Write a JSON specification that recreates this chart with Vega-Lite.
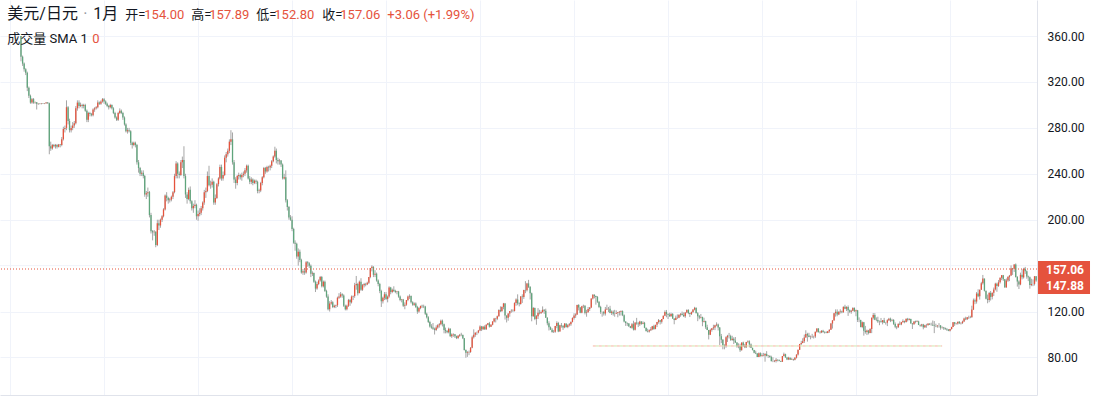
{
"$schema":"https://vega.github.io/schema/vega-lite/v6.json",
"width":1037,"height":395,"padding":{"left":0,"top":0,"right":68,"bottom":4},"autosize":{"type":"none"},
"background":"#ffffff",
"config":{"view":{"stroke":null},"font":"Roboto","scale":{"continuousPadding":0}},
"datasets":{"k":[
{"d":"1971-08","o":360,"h":360,"l":338,"c":342},{"d":"1971-09","o":342,"h":343,"l":334,"c":336},{"d":"1971-10","o":336,"h":337,"l":329,"c":331},{"d":"1971-11","o":331,"h":332,"l":326,"c":328},{"d":"1971-12","o":328,"h":329,"l":312,"c":315},
{"d":"1972-01","o":315,"h":316,"l":306,"c":308},{"d":"1972-02","o":308,"h":309,"l":301,"c":302},{"d":"1972-03","o":302,"h":306,"l":301,"c":305},{"d":"1972-04","o":305,"h":306,"l":301,"c":302},{"d":"1972-05","o":302,"h":303,"l":301,"c":302.4},{"d":"1972-06","o":302.4,"h":302.5,"l":296,"c":301},{"d":"1972-07","o":301,"h":301.5,"l":300,"c":301.2},{"d":"1972-08","o":301.2,"h":301.5,"l":300.5,"c":301},{"d":"1972-09","o":301,"h":301.5,"l":300.5,"c":301.3},{"d":"1972-10","o":301.3,"h":301.6,"l":300.8,"c":301.1},{"d":"1972-11","o":301.1,"h":301.5,"l":300.7,"c":301.4},{"d":"1972-12","o":301.4,"h":302.5,"l":301,"c":302},
{"d":"1973-01","o":302,"h":302.5,"l":301,"c":301.5},{"d":"1973-02","o":301.5,"h":302,"l":257,"c":264},{"d":"1973-03","o":264,"h":268,"l":260,"c":262},{"d":"1973-04","o":262,"h":266,"l":261,"c":265},{"d":"1973-05","o":265,"h":266,"l":263,"c":264},{"d":"1973-06","o":264,"h":266,"l":262,"c":265},{"d":"1973-07","o":265,"h":266,"l":262,"c":263.5},{"d":"1973-08","o":263.5,"h":266,"l":263,"c":265.5},{"d":"1973-09","o":265.5,"h":266,"l":263,"c":265},{"d":"1973-10","o":265,"h":272,"l":264,"c":270},{"d":"1973-11","o":270,"h":281,"l":269,"c":279},{"d":"1973-12","o":279,"h":282,"l":276,"c":280},
{"d":"1974-01","o":280,"h":304,"l":278,"c":298},{"d":"1974-02","o":298,"h":299,"l":283,"c":286},{"d":"1974-03","o":286,"h":288,"l":276,"c":278},{"d":"1974-04","o":278,"h":282,"l":276,"c":280},{"d":"1974-05","o":280,"h":285,"l":278,"c":282},{"d":"1974-06","o":282,"h":286,"l":280,"c":284},{"d":"1974-07","o":284,"h":299,"l":283,"c":297},{"d":"1974-08","o":297,"h":304,"l":295,"c":302},{"d":"1974-09","o":302,"h":304,"l":297,"c":299},{"d":"1974-10","o":299,"h":302,"l":298,"c":300},{"d":"1974-11","o":300,"h":301,"l":297,"c":299},{"d":"1974-12","o":299,"h":301,"l":297,"c":300},
{"d":"1975-01","o":300,"h":301,"l":294,"c":295},{"d":"1975-02","o":295,"h":296,"l":285,"c":287},{"d":"1975-03","o":287,"h":294,"l":285,"c":293},{"d":"1975-04","o":293,"h":294,"l":290,"c":292},{"d":"1975-05","o":292,"h":293,"l":290,"c":291},{"d":"1975-06","o":291,"h":297,"l":290,"c":296},{"d":"1975-07","o":296,"h":298,"l":294,"c":297},{"d":"1975-08","o":297,"h":299,"l":296,"c":298},{"d":"1975-09","o":298,"h":304,"l":297,"c":302},{"d":"1975-10","o":302,"h":303,"l":300,"c":301},{"d":"1975-11","o":301,"h":304,"l":300,"c":303},{"d":"1975-12","o":303,"h":306,"l":302,"c":305},
{"d":"1976-01","o":305,"h":306,"l":301,"c":303},{"d":"1976-02","o":303,"h":304,"l":300,"c":301},{"d":"1976-03","o":301,"h":302,"l":298,"c":299},{"d":"1976-04","o":299,"h":300,"l":296,"c":298},{"d":"1976-05","o":298,"h":301,"l":297,"c":300},{"d":"1976-06","o":300,"h":300.5,"l":296,"c":297},{"d":"1976-07","o":297,"h":298,"l":292,"c":293},{"d":"1976-08","o":293,"h":294,"l":288,"c":289},{"d":"1976-09","o":289,"h":290,"l":286,"c":287},{"d":"1976-10","o":287,"h":294,"l":286,"c":293},{"d":"1976-11","o":293,"h":297,"l":292,"c":295},{"d":"1976-12","o":295,"h":296,"l":292,"c":293},
{"d":"1977-01","o":293,"h":294,"l":287,"c":289},{"d":"1977-02","o":289,"h":290,"l":282,"c":283},{"d":"1977-03","o":283,"h":284,"l":276,"c":277},{"d":"1977-04","o":277,"h":280,"l":275,"c":278},{"d":"1977-05","o":278,"h":280,"l":276,"c":277},{"d":"1977-06","o":277,"h":278,"l":265,"c":267},{"d":"1977-07","o":267,"h":268,"l":262,"c":265},{"d":"1977-08","o":265,"h":268,"l":264,"c":267},{"d":"1977-09","o":267,"h":268,"l":263,"c":265},{"d":"1977-10","o":265,"h":266,"l":248,"c":250},{"d":"1977-11","o":250,"h":252,"l":241,"c":245},{"d":"1977-12","o":245,"h":246,"l":238,"c":240},
{"d":"1978-01","o":240,"h":243,"l":238,"c":241},{"d":"1978-02","o":241,"h":243,"l":236,"c":238},{"d":"1978-03","o":238,"h":239,"l":220,"c":222},{"d":"1978-04","o":222,"h":225,"l":218,"c":223},{"d":"1978-05","o":223,"h":228,"l":220,"c":224},{"d":"1978-06","o":224,"h":225,"l":202,"c":204},{"d":"1978-07","o":204,"h":206,"l":188,"c":190},{"d":"1978-08","o":190,"h":191,"l":182,"c":189},{"d":"1978-09","o":189,"h":191,"l":186,"c":189.5},{"d":"1978-10","o":189.5,"h":190,"l":176,"c":178},{"d":"1978-11","o":178,"h":200,"l":177,"c":197},{"d":"1978-12","o":197,"h":200,"l":191,"c":195},
{"d":"1979-01","o":195,"h":201,"l":193,"c":200},{"d":"1979-02","o":200,"h":204,"l":198,"c":203},{"d":"1979-03","o":203,"h":210,"l":202,"c":209},{"d":"1979-04","o":209,"h":222,"l":208,"c":221},{"d":"1979-05","o":221,"h":224,"l":216,"c":219},{"d":"1979-06","o":219,"h":220,"l":214,"c":217},{"d":"1979-07","o":217,"h":219,"l":215,"c":217.5},{"d":"1979-08","o":217.5,"h":221,"l":216,"c":220},{"d":"1979-09","o":220,"h":225,"l":218,"c":224},{"d":"1979-10","o":224,"h":240,"l":223,"c":238},{"d":"1979-11","o":238,"h":251,"l":236,"c":249},{"d":"1979-12","o":249,"h":250,"l":236,"c":240},
{"d":"1980-01","o":240,"h":242,"l":236,"c":239},{"d":"1980-02","o":239,"h":252,"l":238,"c":250},{"d":"1980-03","o":250,"h":255,"l":245,"c":252},{"d":"1980-04","o":252,"h":264,"l":236,"c":238},{"d":"1980-05","o":238,"h":240,"l":219,"c":222},{"d":"1980-06","o":222,"h":224,"l":214,"c":218},{"d":"1980-07","o":218,"h":228,"l":217,"c":226},{"d":"1980-08","o":226,"h":229,"l":214,"c":216},{"d":"1980-09","o":216,"h":217,"l":208,"c":210},{"d":"1980-10","o":210,"h":214,"l":206,"c":212},{"d":"1980-11","o":212,"h":217,"l":210,"c":213},{"d":"1980-12","o":213,"h":214,"l":200,"c":203},
{"d":"1981-01","o":203,"h":208,"l":199,"c":205},{"d":"1981-02","o":205,"h":210,"l":203,"c":206},{"d":"1981-03","o":206,"h":212,"l":204,"c":210},{"d":"1981-04","o":210,"h":216,"l":208,"c":215},{"d":"1981-05","o":215,"h":226,"l":213,"c":224},{"d":"1981-06","o":224,"h":228,"l":219,"c":225},{"d":"1981-07","o":225,"h":242,"l":224,"c":238},{"d":"1981-08","o":238,"h":247,"l":229,"c":230},{"d":"1981-09","o":230,"h":234,"l":227,"c":230.5},{"d":"1981-10","o":230.5,"h":236,"l":228,"c":233},{"d":"1981-11","o":233,"h":234,"l":213,"c":215},{"d":"1981-12","o":215,"h":222,"l":213,"c":219},
{"d":"1982-01","o":219,"h":232,"l":218,"c":231},{"d":"1982-02","o":231,"h":237,"l":229,"c":236},{"d":"1982-03","o":236,"h":248,"l":235,"c":246},{"d":"1982-04","o":246,"h":248,"l":234,"c":236},{"d":"1982-05","o":236,"h":242,"l":234,"c":239},{"d":"1982-06","o":239,"h":256,"l":238,"c":254},{"d":"1982-07","o":254,"h":259,"l":250,"c":257},{"d":"1982-08","o":257,"h":262,"l":255,"c":260},{"d":"1982-09","o":260,"h":270,"l":258,"c":268},{"d":"1982-10","o":268,"h":278,"l":265,"c":270},{"d":"1982-11","o":270,"h":276,"l":248,"c":250},{"d":"1982-12","o":250,"h":252,"l":232,"c":235},
{"d":"1983-01","o":235,"h":237,"l":227,"c":232},{"d":"1983-02","o":232,"h":239,"l":230,"c":238},{"d":"1983-03","o":238,"h":241,"l":235,"c":239},{"d":"1983-04","o":239,"h":240,"l":235,"c":237},{"d":"1983-05","o":237,"h":241,"l":234,"c":239},{"d":"1983-06","o":239,"h":242,"l":237,"c":240},{"d":"1983-07","o":240,"h":245,"l":238,"c":243},{"d":"1983-08","o":243,"h":248,"l":241,"c":247},{"d":"1983-09","o":247,"h":248,"l":235,"c":236},{"d":"1983-10","o":236,"h":238,"l":231,"c":233},{"d":"1983-11","o":233,"h":237,"l":231,"c":235},{"d":"1983-12","o":235,"h":236,"l":230,"c":232},
{"d":"1984-01","o":232,"h":235,"l":231,"c":234},{"d":"1984-02","o":234,"h":235,"l":231,"c":233},{"d":"1984-03","o":233,"h":234,"l":223,"c":225},{"d":"1984-04","o":225,"h":227,"l":223,"c":225.5},{"d":"1984-05","o":225.5,"h":233,"l":224,"c":232},{"d":"1984-06","o":232,"h":238,"l":230,"c":237},{"d":"1984-07","o":237,"h":246,"l":236,"c":245},{"d":"1984-08","o":245,"h":246,"l":240,"c":242},{"d":"1984-09","o":242,"h":247,"l":241,"c":246},{"d":"1984-10","o":246,"h":247,"l":242,"c":245.5},{"d":"1984-11","o":245.5,"h":248,"l":243,"c":247},{"d":"1984-12","o":247,"h":252,"l":245,"c":251},
{"d":"1985-01","o":251,"h":256,"l":250,"c":255},{"d":"1985-02","o":255,"h":263.6,"l":254,"c":260},{"d":"1985-03","o":260,"h":262,"l":249,"c":252},{"d":"1985-04","o":252,"h":254,"l":248,"c":251},{"d":"1985-05","o":251,"h":253,"l":248,"c":251.5},{"d":"1985-06","o":251.5,"h":252,"l":246,"c":248},{"d":"1985-07","o":248,"h":249,"l":235,"c":236},{"d":"1985-08","o":236,"h":240,"l":235,"c":237},{"d":"1985-09","o":237,"h":243,"l":215,"c":217},{"d":"1985-10","o":217,"h":218,"l":208,"c":211},{"d":"1985-11","o":211,"h":212,"l":200,"c":202},{"d":"1985-12","o":202,"h":204,"l":199,"c":200},
{"d":"1986-01","o":200,"h":203,"l":190,"c":192},{"d":"1986-02","o":192,"h":193,"l":179,"c":180},{"d":"1986-03","o":180,"h":182,"l":173,"c":179},{"d":"1986-04","o":179,"h":180,"l":166,"c":168},{"d":"1986-05","o":168,"h":175,"l":160,"c":172},{"d":"1986-06","o":172,"h":174,"l":163,"c":165},{"d":"1986-07","o":165,"h":166,"l":153,"c":154},{"d":"1986-08","o":154,"h":157,"l":152,"c":155},{"d":"1986-09","o":155,"h":158,"l":152,"c":154},{"d":"1986-10","o":154,"h":164,"l":153,"c":163},{"d":"1986-11","o":163,"h":164,"l":159,"c":162},{"d":"1986-12","o":162,"h":163,"l":158,"c":160},
{"d":"1987-01","o":160,"h":161,"l":150,"c":153},{"d":"1987-02","o":153,"h":155,"l":151,"c":153.5},{"d":"1987-03","o":153.5,"h":154,"l":145,"c":146},{"d":"1987-04","o":146,"h":147,"l":137,"c":140},{"d":"1987-05","o":140,"h":146,"l":139,"c":144},{"d":"1987-06","o":144,"h":148,"l":143,"c":147},{"d":"1987-07","o":147,"h":151,"l":146,"c":150},{"d":"1987-08","o":150,"h":151,"l":141,"c":142},{"d":"1987-09","o":142,"h":147,"l":141,"c":146},{"d":"1987-10","o":146,"h":147,"l":137,"c":138},{"d":"1987-11","o":138,"h":139,"l":132,"c":133},{"d":"1987-12","o":133,"h":135,"l":121,"c":122},
{"d":"1988-01","o":122,"h":129,"l":120,"c":127},{"d":"1988-02","o":127,"h":130,"l":126,"c":128},{"d":"1988-03","o":128,"h":129,"l":123,"c":124},{"d":"1988-04","o":124,"h":126,"l":123,"c":125},{"d":"1988-05","o":125,"h":126,"l":123,"c":125.5},{"d":"1988-06","o":125.5,"h":133,"l":124,"c":132},{"d":"1988-07","o":132,"h":136,"l":131,"c":133},{"d":"1988-08","o":133,"h":137,"l":132,"c":135},{"d":"1988-09","o":135,"h":136,"l":132,"c":134},{"d":"1988-10","o":134,"h":135,"l":124,"c":125},{"d":"1988-11","o":125,"h":126,"l":121,"c":122},{"d":"1988-12","o":122,"h":126,"l":121,"c":125},
{"d":"1989-01","o":125,"h":131,"l":124,"c":130},{"d":"1989-02","o":130,"h":131,"l":125,"c":128},{"d":"1989-03","o":128,"h":134,"l":127,"c":133},{"d":"1989-04","o":133,"h":134,"l":130,"c":133.5},{"d":"1989-05","o":133.5,"h":145,"l":132,"c":143},{"d":"1989-06","o":143,"h":151,"l":139,"c":144},{"d":"1989-07","o":144,"h":145,"l":134,"c":136},{"d":"1989-08","o":136,"h":147,"l":136,"c":146},{"d":"1989-09","o":146,"h":149,"l":138,"c":139},{"d":"1989-10","o":139,"h":144,"l":138,"c":143},{"d":"1989-11","o":143,"h":145,"l":141,"c":144},{"d":"1989-12","o":144,"h":145,"l":142,"c":143.5},
{"d":"1990-01","o":143.5,"h":146,"l":143,"c":145},{"d":"1990-02","o":145,"h":150,"l":144,"c":150},{"d":"1990-03","o":150,"h":158,"l":149,"c":158},{"d":"1990-04","o":158,"h":160.3,"l":155,"c":159},{"d":"1990-05","o":159,"h":159.5,"l":150,"c":152},{"d":"1990-06","o":152,"h":156,"l":150,"c":153},{"d":"1990-07","o":153,"h":154,"l":146,"c":147},{"d":"1990-08","o":147,"h":148,"l":142,"c":144},{"d":"1990-09","o":144,"h":145,"l":136,"c":138},{"d":"1990-10","o":138,"h":139,"l":124,"c":129},{"d":"1990-11","o":129,"h":133,"l":127,"c":132},{"d":"1990-12","o":132,"h":137,"l":130,"c":135},
{"d":"1991-01","o":135,"h":137,"l":130,"c":131},{"d":"1991-02","o":131,"h":134,"l":128,"c":133},{"d":"1991-03","o":133,"h":142,"l":132,"c":141},{"d":"1991-04","o":141,"h":141.5,"l":135,"c":137},{"d":"1991-05","o":137,"h":140,"l":136,"c":139},{"d":"1991-06","o":139,"h":142,"l":137,"c":138},{"d":"1991-07","o":138,"h":139,"l":136,"c":137},{"d":"1991-08","o":137,"h":138,"l":135,"c":137.5},{"d":"1991-09","o":137.5,"h":138,"l":132,"c":133},{"d":"1991-10","o":133,"h":134,"l":129,"c":130},{"d":"1991-11","o":130,"h":131,"l":128,"c":130.5},{"d":"1991-12","o":130.5,"h":131,"l":124,"c":125},
{"d":"1992-01","o":125,"h":128,"l":122,"c":126},{"d":"1992-02","o":126,"h":130,"l":125,"c":130},{"d":"1992-03","o":130,"h":134,"l":129,"c":133},{"d":"1992-04","o":133,"h":135,"l":131,"c":133.5},{"d":"1992-05","o":133.5,"h":134,"l":127,"c":128},{"d":"1992-06","o":128,"h":129,"l":125,"c":126},{"d":"1992-07","o":126,"h":128,"l":125,"c":127},{"d":"1992-08","o":127,"h":128,"l":123,"c":124},{"d":"1992-09","o":124,"h":125,"l":118,"c":120},{"d":"1992-10","o":120,"h":124,"l":119,"c":123},{"d":"1992-11","o":123,"h":125,"l":122,"c":125},{"d":"1992-12","o":125,"h":126,"l":123,"c":124.6},
{"d":"1993-01","o":124.6,"h":126,"l":123,"c":124.5},{"d":"1993-02","o":124.5,"h":125,"l":117,"c":118},{"d":"1993-03","o":118,"h":119,"l":114,"c":115},{"d":"1993-04","o":115,"h":116,"l":110,"c":111},{"d":"1993-05","o":111,"h":112,"l":106,"c":107},{"d":"1993-06","o":107,"h":109,"l":105,"c":106},{"d":"1993-07","o":106,"h":110,"l":104,"c":105},{"d":"1993-08","o":105,"h":106,"l":100,"c":104},{"d":"1993-09","o":104,"h":108,"l":103,"c":106},{"d":"1993-10","o":106,"h":109,"l":105,"c":108},{"d":"1993-11","o":108,"h":110,"l":106,"c":109},{"d":"1993-12","o":109,"h":113,"l":108,"c":112},
{"d":"1994-01","o":112,"h":113,"l":107,"c":109},{"d":"1994-02","o":109,"h":109.5,"l":101,"c":104},{"d":"1994-03","o":104,"h":106,"l":101,"c":103},{"d":"1994-04","o":103,"h":104,"l":101,"c":102},{"d":"1994-05","o":102,"h":106,"l":101,"c":105},{"d":"1994-06","o":105,"h":105.5,"l":98,"c":98.5},{"d":"1994-07","o":98.5,"h":101,"l":97,"c":100},{"d":"1994-08","o":100,"h":101,"l":98,"c":100.3},{"d":"1994-09","o":100.3,"h":100.5,"l":97,"c":98.5},{"d":"1994-10","o":98.5,"h":99,"l":96,"c":97},{"d":"1994-11","o":97,"h":99.5,"l":96,"c":98.9},{"d":"1994-12","o":98.9,"h":100.5,"l":98,"c":99.7},
{"d":"1995-01","o":99.7,"h":101.5,"l":98.5,"c":99.5},{"d":"1995-02","o":99.5,"h":100,"l":96,"c":96.7},{"d":"1995-03","o":96.7,"h":97,"l":86,"c":86.5},{"d":"1995-04","o":86.5,"h":87,"l":79.75,"c":84},{"d":"1995-05","o":84,"h":85.5,"l":80.5,"c":84.5},{"d":"1995-06","o":84.5,"h":86,"l":82,"c":84.7},{"d":"1995-07","o":84.7,"h":89,"l":84,"c":88.5},{"d":"1995-08","o":88.5,"h":99,"l":88,"c":97.5},{"d":"1995-09","o":97.5,"h":104.5,"l":96.5,"c":99.8},{"d":"1995-10","o":99.8,"h":101.5,"l":98,"c":101.8},{"d":"1995-11","o":101.8,"h":102.5,"l":99.5,"c":101.7},{"d":"1995-12","o":101.7,"h":104,"l":101,"c":103.5},
{"d":"1996-01","o":103.5,"h":108,"l":103,"c":107},{"d":"1996-02","o":107,"h":107.5,"l":103,"c":104.5},{"d":"1996-03","o":104.5,"h":107.5,"l":104,"c":106.7},{"d":"1996-04","o":106.7,"h":108,"l":104,"c":104.5},{"d":"1996-05","o":104.5,"h":109,"l":104,"c":108.5},{"d":"1996-06","o":108.5,"h":110,"l":108,"c":109.7},{"d":"1996-07","o":109.7,"h":111,"l":106,"c":106.8},{"d":"1996-08","o":106.8,"h":109,"l":106.5,"c":108.5},{"d":"1996-09","o":108.5,"h":111.5,"l":108,"c":111.4},{"d":"1996-10","o":111.4,"h":114.5,"l":110.5,"c":114},{"d":"1996-11","o":114,"h":114.5,"l":110.5,"c":113.8},{"d":"1996-12","o":113.8,"h":116.5,"l":112.5,"c":115.8},
{"d":"1997-01","o":115.8,"h":122,"l":115.5,"c":121.3},{"d":"1997-02","o":121.3,"h":124.5,"l":119.5,"c":120.3},{"d":"1997-03","o":120.3,"h":124.5,"l":120,"c":124},{"d":"1997-04","o":124,"h":127.5,"l":122,"c":127},{"d":"1997-05","o":127,"h":127.5,"l":113,"c":116.5},{"d":"1997-06","o":116.5,"h":116.8,"l":110.5,"c":114.5},{"d":"1997-07","o":114.5,"h":118.5,"l":112,"c":118.3},{"d":"1997-08","o":118.3,"h":120.5,"l":115.5,"c":120.4},{"d":"1997-09","o":120.4,"h":122,"l":119,"c":120.7},{"d":"1997-10","o":120.7,"h":122,"l":119.5,"c":120.5},{"d":"1997-11","o":120.5,"h":128,"l":120,"c":127.5},{"d":"1997-12","o":127.5,"h":131.5,"l":125,"c":130.5},
{"d":"1998-01","o":130.5,"h":135,"l":125.5,"c":127},{"d":"1998-02","o":127,"h":128,"l":124.5,"c":126.5},{"d":"1998-03","o":126.5,"h":133.5,"l":126,"c":133},{"d":"1998-04","o":133,"h":135,"l":127.5,"c":132.7},{"d":"1998-05","o":132.7,"h":139,"l":131,"c":138.8},{"d":"1998-06","o":138.8,"h":146.5,"l":136,"c":138.5},{"d":"1998-07","o":138.5,"h":145,"l":137.5,"c":144.5},{"d":"1998-08","o":144.5,"h":147.6,"l":140.5,"c":141.5},{"d":"1998-09","o":141.5,"h":142,"l":130.5,"c":136},{"d":"1998-10","o":136,"h":136.5,"l":111.5,"c":116},{"d":"1998-11","o":116,"h":124,"l":115.5,"c":123},{"d":"1998-12","o":123,"h":123.5,"l":112.5,"c":113.6},
{"d":"1999-01","o":113.6,"h":117,"l":108.5,"c":116},{"d":"1999-02","o":116,"h":123,"l":113.5,"c":119},{"d":"1999-03","o":119,"h":121.5,"l":117.5,"c":118.5},{"d":"1999-04","o":118.5,"h":121,"l":118,"c":119.5},{"d":"1999-05","o":119.5,"h":124.5,"l":119,"c":121.5},{"d":"1999-06","o":121.5,"h":122,"l":118,"c":120.8},{"d":"1999-07","o":120.8,"h":122.5,"l":114.5,"c":114.6},{"d":"1999-08","o":114.6,"h":115,"l":108,"c":109.8},{"d":"1999-09","o":109.8,"h":111.5,"l":103.5,"c":106.3},{"d":"1999-10","o":106.3,"h":107,"l":104,"c":104.2},{"d":"1999-11","o":104.2,"h":105.5,"l":101.5,"c":102.2},{"d":"1999-12","o":102.2,"h":104,"l":101.3,"c":102.4},
{"d":"2000-01","o":102.4,"h":107.5,"l":101.5,"c":107.3},{"d":"2000-02","o":107.3,"h":111.5,"l":105.5,"c":110},{"d":"2000-03","o":110,"h":111,"l":102,"c":102.7},{"d":"2000-04","o":102.7,"h":108.5,"l":102.5,"c":108.1},{"d":"2000-05","o":108.1,"h":110,"l":106,"c":107.6},{"d":"2000-06","o":107.6,"h":108,"l":104,"c":106.2},{"d":"2000-07","o":106.2,"h":110,"l":105.5,"c":109.5},{"d":"2000-08","o":109.5,"h":109.6,"l":106,"c":106.6},{"d":"2000-09","o":106.6,"h":109,"l":105.5,"c":108},{"d":"2000-10","o":108,"h":110,"l":107,"c":109},{"d":"2000-11","o":109,"h":111.5,"l":107.5,"c":111},{"d":"2000-12","o":111,"h":115,"l":110.5,"c":114.4},
{"d":"2001-01","o":114.4,"h":118.5,"l":113,"c":116.5},{"d":"2001-02","o":116.5,"h":118.5,"l":114.5,"c":117.5},{"d":"2001-03","o":117.5,"h":126,"l":117,"c":125.8},{"d":"2001-04","o":125.8,"h":126.5,"l":121,"c":123.6},{"d":"2001-05","o":123.6,"h":124,"l":118.5,"c":119},{"d":"2001-06","o":119,"h":125,"l":118.5,"c":124.7},{"d":"2001-07","o":124.7,"h":126,"l":123,"c":125},{"d":"2001-08","o":125,"h":125.5,"l":117.5,"c":118.8},{"d":"2001-09","o":118.8,"h":121.5,"l":115.5,"c":119.3},{"d":"2001-10","o":119.3,"h":124,"l":119,"c":122.3},{"d":"2001-11","o":122.3,"h":124,"l":120.5,"c":123.5},{"d":"2001-12","o":123.5,"h":131.5,"l":123,"c":131.3},
{"d":"2002-01","o":131.3,"h":135.2,"l":130.5,"c":134.6},{"d":"2002-02","o":134.6,"h":135,"l":131.5,"c":133.5},{"d":"2002-03","o":133.5,"h":133.8,"l":126,"c":132.7},{"d":"2002-04","o":132.7,"h":133.5,"l":127.5,"c":128.5},{"d":"2002-05","o":128.5,"h":129,"l":123,"c":124},{"d":"2002-06","o":124,"h":125,"l":118,"c":119.5},{"d":"2002-07","o":119.5,"h":120,"l":115.5,"c":119.7},{"d":"2002-08","o":119.7,"h":120.5,"l":116.5,"c":118.4},{"d":"2002-09","o":118.4,"h":124,"l":116.5,"c":121.8},{"d":"2002-10","o":121.8,"h":126,"l":121.5,"c":122.5},{"d":"2002-11","o":122.5,"h":124,"l":119.5,"c":122.4},{"d":"2002-12","o":122.4,"h":125,"l":118.5,"c":118.8},
{"d":"2003-01","o":118.8,"h":121,"l":117,"c":119.9},{"d":"2003-02","o":119.9,"h":121,"l":116.5,"c":118},{"d":"2003-03","o":118,"h":121.5,"l":115.5,"c":118.1},{"d":"2003-04","o":118.1,"h":121,"l":118,"c":118.8},{"d":"2003-05","o":118.8,"h":119.5,"l":115,"c":119.3},{"d":"2003-06","o":119.3,"h":120.5,"l":116.5,"c":119.8},{"d":"2003-07","o":119.8,"h":121,"l":116.5,"c":120.5},{"d":"2003-08","o":120.5,"h":121,"l":116,"c":116.8},{"d":"2003-09","o":116.8,"h":117.5,"l":110.5,"c":111.4},{"d":"2003-10","o":111.4,"h":111.5,"l":107.5,"c":110},{"d":"2003-11","o":110,"h":110.5,"l":107.5,"c":109.6},{"d":"2003-12","o":109.6,"h":110,"l":106.5,"c":107.2},
{"d":"2004-01","o":107.2,"h":107.5,"l":105.5,"c":105.8},{"d":"2004-02","o":105.8,"h":110,"l":105,"c":109},{"d":"2004-03","o":109,"h":112,"l":103.5,"c":104.2},{"d":"2004-04","o":104.2,"h":110.5,"l":103.5,"c":110.4},{"d":"2004-05","o":110.4,"h":114.5,"l":108.5,"c":109.6},{"d":"2004-06","o":109.6,"h":111,"l":106.5,"c":108.9},{"d":"2004-07","o":108.9,"h":112,"l":107.5,"c":111.4},{"d":"2004-08","o":111.4,"h":111.5,"l":108.5,"c":109.3},{"d":"2004-09","o":109.3,"h":111.5,"l":109,"c":110.2},{"d":"2004-10","o":110.2,"h":111,"l":105.5,"c":105.9},{"d":"2004-11","o":105.9,"h":106,"l":102.5,"c":103.1},{"d":"2004-12","o":103.1,"h":105,"l":101.8,"c":102.6},
{"d":"2005-01","o":102.6,"h":104.5,"l":101.7,"c":103.6},{"d":"2005-02","o":103.6,"h":106.5,"l":103,"c":104.5},{"d":"2005-03","o":104.5,"h":107.5,"l":103.8,"c":107.2},{"d":"2005-04","o":107.2,"h":108.5,"l":104,"c":104.9},{"d":"2005-05","o":104.9,"h":108.5,"l":104.5,"c":108.4},{"d":"2005-06","o":108.4,"h":111,"l":106.5,"c":110.9},{"d":"2005-07","o":110.9,"h":113.5,"l":109.5,"c":112.4},{"d":"2005-08","o":112.4,"h":112.5,"l":108.7,"c":111.1},{"d":"2005-09","o":111.1,"h":113.5,"l":109.5,"c":113.4},{"d":"2005-10","o":113.4,"h":116.5,"l":113.3,"c":116.4},{"d":"2005-11","o":116.4,"h":121,"l":116,"c":119.7},{"d":"2005-12","o":119.7,"h":121.4,"l":115,"c":117.9},
{"d":"2006-01","o":117.9,"h":118.5,"l":113.5,"c":117.2},{"d":"2006-02","o":117.2,"h":119,"l":115.5,"c":115.8},{"d":"2006-03","o":115.8,"h":119,"l":115.5,"c":117.8},{"d":"2006-04","o":117.8,"h":118.7,"l":113.5,"c":113.9},{"d":"2006-05","o":113.9,"h":114,"l":108.9,"c":112.6},{"d":"2006-06","o":112.6,"h":116.5,"l":112.5,"c":114.5},{"d":"2006-07","o":114.5,"h":117.5,"l":113.5,"c":114.7},{"d":"2006-08","o":114.7,"h":117.5,"l":114.2,"c":117.3},{"d":"2006-09","o":117.3,"h":118.5,"l":115.5,"c":118.1},{"d":"2006-10","o":118.1,"h":120,"l":116.5,"c":116.9},{"d":"2006-11","o":116.9,"h":119.3,"l":115.2,"c":115.8},{"d":"2006-12","o":115.8,"h":119.5,"l":114.5,"c":119.1},
{"d":"2007-01","o":119.1,"h":122,"l":118.5,"c":121.4},{"d":"2007-02","o":121.4,"h":122,"l":117.7,"c":118.7},{"d":"2007-03","o":118.7,"h":119,"l":115.2,"c":117.8},{"d":"2007-04","o":117.8,"h":120,"l":117,"c":119.5},{"d":"2007-05","o":119.5,"h":122,"l":118.7,"c":121.7},{"d":"2007-06","o":121.7,"h":124.1,"l":121,"c":123.2},{"d":"2007-07","o":123.2,"h":123.5,"l":118.5,"c":118.6},{"d":"2007-08","o":118.6,"h":119.5,"l":111.6,"c":115.8},{"d":"2007-09","o":115.8,"h":117,"l":113.3,"c":114.9},{"d":"2007-10","o":114.9,"h":117.9,"l":114,"c":115.3},{"d":"2007-11","o":115.3,"h":115.5,"l":107.2,"c":111.2},{"d":"2007-12","o":111.2,"h":114.6,"l":110.5,"c":111.7},
{"d":"2008-01","o":111.7,"h":112,"l":104.9,"c":106.4},{"d":"2008-02","o":106.4,"h":108.5,"l":103.8,"c":103.9},{"d":"2008-03","o":103.9,"h":104,"l":95.7,"c":99.7},{"d":"2008-04","o":99.7,"h":105,"l":99.5,"c":104},{"d":"2008-05","o":104,"h":105.5,"l":102.5,"c":105.5},{"d":"2008-06","o":105.5,"h":108.5,"l":104,"c":106.2},{"d":"2008-07","o":106.2,"h":108.5,"l":103.8,"c":108},{"d":"2008-08","o":108,"h":110.6,"l":107.2,"c":108.7},{"d":"2008-09","o":108.7,"h":109.5,"l":103.5,"c":106},{"d":"2008-10","o":106,"h":106.5,"l":90.9,"c":98.4},{"d":"2008-11","o":98.4,"h":100.5,"l":92.5,"c":95.5},{"d":"2008-12","o":95.5,"h":96,"l":87.1,"c":90.6},
{"d":"2009-01","o":90.6,"h":91.5,"l":87.1,"c":89.9},{"d":"2009-02","o":89.9,"h":98.5,"l":88.5,"c":97.6},{"d":"2009-03","o":97.6,"h":99.7,"l":93.5,"c":98.9},{"d":"2009-04","o":98.9,"h":101.4,"l":96.5,"c":98.6},{"d":"2009-05","o":98.6,"h":99.8,"l":94.5,"c":95.3},{"d":"2009-06","o":95.3,"h":98.9,"l":94.5,"c":96.4},{"d":"2009-07","o":96.4,"h":97.6,"l":91.7,"c":94.7},{"d":"2009-08","o":94.7,"h":97.8,"l":92.6,"c":93},{"d":"2009-09","o":93,"h":93.3,"l":88.5,"c":89.8},{"d":"2009-10","o":89.8,"h":92.3,"l":88,"c":90},{"d":"2009-11","o":90,"h":92,"l":84.8,"c":86.3},{"d":"2009-12","o":86.3,"h":93.1,"l":86,"c":93},
{"d":"2010-01","o":93,"h":93.8,"l":89.2,"c":90.3},{"d":"2010-02","o":90.3,"h":91.8,"l":88.1,"c":88.9},{"d":"2010-03","o":88.9,"h":93.6,"l":88.2,"c":93.4},{"d":"2010-04","o":93.4,"h":94.9,"l":92.5,"c":94},{"d":"2010-05","o":94,"h":94.9,"l":88.8,"c":91.3},{"d":"2010-06","o":91.3,"h":92.2,"l":88.2,"c":88.4},{"d":"2010-07","o":88.4,"h":88.5,"l":86.2,"c":86.4},{"d":"2010-08","o":86.4,"h":86.6,"l":83.6,"c":84.2},{"d":"2010-09","o":84.2,"h":85.9,"l":82.9,"c":83.5},{"d":"2010-10","o":83.5,"h":83.8,"l":80.3,"c":80.4},{"d":"2010-11","o":80.4,"h":84.4,"l":80.3,"c":83.7},{"d":"2010-12","o":83.7,"h":84.5,"l":80.8,"c":81.1},
{"d":"2011-01","o":81.1,"h":83.7,"l":81,"c":82},{"d":"2011-02","o":82,"h":84,"l":81,"c":81.8},{"d":"2011-03","o":81.8,"h":83.8,"l":76.3,"c":83.1},{"d":"2011-04","o":83.1,"h":85.5,"l":81,"c":81.2},{"d":"2011-05","o":81.2,"h":82.2,"l":79.6,"c":81.5},{"d":"2011-06","o":81.5,"h":81.7,"l":79.7,"c":80.5},{"d":"2011-07","o":80.5,"h":81.5,"l":76.7,"c":76.8},{"d":"2011-08","o":76.8,"h":80.2,"l":75.9,"c":76.6},{"d":"2011-09","o":76.6,"h":77.8,"l":75.9,"c":77},{"d":"2011-10","o":77,"h":79.5,"l":75.6,"c":78.1},{"d":"2011-11","o":78.1,"h":78.3,"l":76.6,"c":77.6},{"d":"2011-12","o":77.6,"h":78.3,"l":76.6,"c":76.9},
{"d":"2012-01","o":76.9,"h":77.2,"l":76.1,"c":76.3},{"d":"2012-02","o":76.3,"h":81.3,"l":76.1,"c":81.2},{"d":"2012-03","o":81.2,"h":84.2,"l":80.8,"c":82.8},{"d":"2012-04","o":82.8,"h":83.3,"l":79.8,"c":80},{"d":"2012-05","o":80,"h":80.5,"l":77.7,"c":78.3},{"d":"2012-06","o":78.3,"h":80.6,"l":77.7,"c":79.8},{"d":"2012-07","o":79.8,"h":80,"l":77.9,"c":78.1},{"d":"2012-08","o":78.1,"h":79.7,"l":77.9,"c":78.4},{"d":"2012-09","o":78.4,"h":78.9,"l":77.1,"c":77.9},{"d":"2012-10","o":77.9,"h":80.4,"l":77.5,"c":79.8},{"d":"2012-11","o":79.8,"h":82.8,"l":79.1,"c":82.5},{"d":"2012-12","o":82.5,"h":86.8,"l":81.7,"c":86.7},
{"d":"2013-01","o":86.7,"h":91.8,"l":86.5,"c":91.7},{"d":"2013-02","o":91.7,"h":94.5,"l":90.8,"c":92.5},{"d":"2013-03","o":92.5,"h":96.7,"l":92.4,"c":94.2},{"d":"2013-04","o":94.2,"h":99.9,"l":92.6,"c":97.4},{"d":"2013-05","o":97.4,"h":103.7,"l":97.2,"c":100.5},{"d":"2013-06","o":100.5,"h":101.5,"l":93.8,"c":99.1},{"d":"2013-07","o":99.1,"h":101.5,"l":97.6,"c":97.9},{"d":"2013-08","o":97.9,"h":99.1,"l":95.8,"c":98.1},{"d":"2013-09","o":98.1,"h":100.6,"l":96.9,"c":98.2},{"d":"2013-10","o":98.2,"h":99,"l":96.5,"c":98.3},{"d":"2013-11","o":98.3,"h":102.5,"l":96.9,"c":102.4},{"d":"2013-12","o":102.4,"h":105.4,"l":101.6,"c":105.3},
{"d":"2014-01","o":105.3,"h":105.4,"l":101.8,"c":102},{"d":"2014-02","o":102,"h":103,"l":100.8,"c":101.8},{"d":"2014-03","o":101.8,"h":103.8,"l":101.2,"c":103.2},{"d":"2014-04","o":103.2,"h":104.1,"l":101.4,"c":102.2},{"d":"2014-05","o":102.2,"h":102.8,"l":100.8,"c":101.8},{"d":"2014-06","o":101.8,"h":102.8,"l":101.1,"c":101.3},{"d":"2014-07","o":101.3,"h":103.1,"l":101.1,"c":102.8},{"d":"2014-08","o":102.8,"h":104.5,"l":101.5,"c":104.1},{"d":"2014-09","o":104.1,"h":110.1,"l":104,"c":109.6},{"d":"2014-10","o":109.6,"h":112.5,"l":105.2,"c":112.3},{"d":"2014-11","o":112.3,"h":118.9,"l":112.2,"c":118.6},{"d":"2014-12","o":118.6,"h":121.9,"l":115.6,"c":119.8},
{"d":"2015-01","o":119.8,"h":121.9,"l":115.9,"c":117.5},{"d":"2015-02","o":117.5,"h":120.5,"l":116.9,"c":119.6},{"d":"2015-03","o":119.6,"h":122,"l":118.3,"c":120.1},{"d":"2015-04","o":120.1,"h":120.8,"l":118.5,"c":119.4},{"d":"2015-05","o":119.4,"h":124.5,"l":118.9,"c":124.1},{"d":"2015-06","o":124.1,"h":125.9,"l":122,"c":122.5},{"d":"2015-07","o":122.5,"h":124.6,"l":120.4,"c":123.9},{"d":"2015-08","o":123.9,"h":125.3,"l":116.2,"c":121.2},{"d":"2015-09","o":121.2,"h":121.8,"l":118.6,"c":119.9},{"d":"2015-10","o":119.9,"h":121.5,"l":118.1,"c":120.6},{"d":"2015-11","o":120.6,"h":123.8,"l":120.3,"c":123.1},{"d":"2015-12","o":123.1,"h":123.7,"l":119.7,"c":120.2},
{"d":"2016-01","o":120.2,"h":121.7,"l":115.9,"c":121.1},{"d":"2016-02","o":121.1,"h":121.4,"l":110.9,"c":112.7},{"d":"2016-03","o":112.7,"h":114.9,"l":110.7,"c":112.6},{"d":"2016-04","o":112.6,"h":112.9,"l":106.2,"c":106.5},{"d":"2016-05","o":106.5,"h":111.4,"l":105.5,"c":110.7},{"d":"2016-06","o":110.7,"h":111,"l":99,"c":103.2},{"d":"2016-07","o":103.2,"h":107.5,"l":100.7,"c":102.1},{"d":"2016-08","o":102.1,"h":104.3,"l":99.5,"c":103.4},{"d":"2016-09","o":103.4,"h":104,"l":100.1,"c":101.3},{"d":"2016-10","o":101.3,"h":105.5,"l":101.1,"c":104.8},{"d":"2016-11","o":104.8,"h":114.8,"l":101.2,"c":114.5},{"d":"2016-12","o":114.5,"h":118.7,"l":113.1,"c":117},
{"d":"2017-01","o":117,"h":118.6,"l":112.5,"c":112.8},{"d":"2017-02","o":112.8,"h":114.9,"l":111.6,"c":112.7},{"d":"2017-03","o":112.7,"h":115.5,"l":110.1,"c":111.4},{"d":"2017-04","o":111.4,"h":112.2,"l":108.1,"c":111.5},{"d":"2017-05","o":111.5,"h":114.4,"l":110.2,"c":110.8},{"d":"2017-06","o":110.8,"h":112.5,"l":108.8,"c":112.4},{"d":"2017-07","o":112.4,"h":114.5,"l":110,"c":110.3},{"d":"2017-08","o":110.3,"h":111,"l":108.6,"c":110.2},{"d":"2017-09","o":110.2,"h":113.3,"l":107.3,"c":112.5},{"d":"2017-10","o":112.5,"h":114.5,"l":111.7,"c":113.7},{"d":"2017-11","o":113.7,"h":114.7,"l":110.8,"c":112.2},{"d":"2017-12","o":112.2,"h":113.7,"l":111.4,"c":112.7},
{"d":"2018-01","o":112.7,"h":113.4,"l":108.3,"c":109.2},{"d":"2018-02","o":109.2,"h":110.5,"l":105.5,"c":106.7},{"d":"2018-03","o":106.7,"h":107.3,"l":104.6,"c":106.3},{"d":"2018-04","o":106.3,"h":109.5,"l":105.7,"c":109.3},{"d":"2018-05","o":109.3,"h":111.4,"l":108.1,"c":108.8},{"d":"2018-06","o":108.8,"h":111,"l":108.1,"c":110.7},{"d":"2018-07","o":110.7,"h":113.2,"l":110.3,"c":111.8},{"d":"2018-08","o":111.8,"h":112.1,"l":109.8,"c":111},{"d":"2018-09","o":111,"h":113.9,"l":110.4,"c":113.7},{"d":"2018-10","o":113.7,"h":114.5,"l":111.4,"c":112.9},{"d":"2018-11","o":112.9,"h":114.2,"l":112.3,"c":113.5},{"d":"2018-12","o":113.5,"h":113.8,"l":109.5,"c":109.6},
{"d":"2019-01","o":109.6,"h":110,"l":104.8,"c":108.9},{"d":"2019-02","o":108.9,"h":111.5,"l":108.5,"c":111.4},{"d":"2019-03","o":111.4,"h":112.1,"l":109.7,"c":110.9},{"d":"2019-04","o":110.9,"h":112.4,"l":110.8,"c":111.4},{"d":"2019-05","o":111.4,"h":112,"l":108.2,"c":108.3},{"d":"2019-06","o":108.3,"h":108.8,"l":106.8,"c":107.9},{"d":"2019-07","o":107.9,"h":109.3,"l":106.8,"c":108.8},{"d":"2019-08","o":108.8,"h":109.3,"l":104.5,"c":106.3},{"d":"2019-09","o":106.3,"h":108.5,"l":105.7,"c":108.1},{"d":"2019-10","o":108.1,"h":109.3,"l":105.9,"c":108},{"d":"2019-11","o":108,"h":109.7,"l":107.9,"c":109.5},{"d":"2019-12","o":109.5,"h":109.7,"l":108.4,"c":108.6},
{"d":"2020-01","o":108.6,"h":110.3,"l":107.7,"c":108.4},{"d":"2020-02","o":108.4,"h":112.2,"l":107.5,"c":107.9},{"d":"2020-03","o":107.9,"h":111.7,"l":101.2,"c":107.5},{"d":"2020-04","o":107.5,"h":109.4,"l":106.4,"c":107.2},{"d":"2020-05","o":107.2,"h":108.1,"l":105.9,"c":107.8},{"d":"2020-06","o":107.8,"h":109.9,"l":106.1,"c":107.9},{"d":"2020-07","o":107.9,"h":108.2,"l":104.2,"c":105.9},{"d":"2020-08","o":105.9,"h":107.1,"l":105.1,"c":106},{"d":"2020-09","o":106,"h":106.6,"l":104,"c":105.5},{"d":"2020-10","o":105.5,"h":106.1,"l":104,"c":104.7},{"d":"2020-11","o":104.7,"h":105.7,"l":103.2,"c":104.3},{"d":"2020-12","o":104.3,"h":104.7,"l":102.9,"c":103.3},
{"d":"2021-01","o":103.3,"h":104.9,"l":102.6,"c":104.7},{"d":"2021-02","o":104.7,"h":106.7,"l":104.4,"c":106.6},{"d":"2021-03","o":106.6,"h":110.9,"l":106.4,"c":110.7},{"d":"2021-04","o":110.7,"h":110.9,"l":107.5,"c":109.3},{"d":"2021-05","o":109.3,"h":110.2,"l":108.6,"c":109.6},{"d":"2021-06","o":109.6,"h":111.2,"l":108.6,"c":111.1},{"d":"2021-07","o":111.1,"h":111.7,"l":109.1,"c":109.7},{"d":"2021-08","o":109.7,"h":110.8,"l":108.7,"c":110},{"d":"2021-09","o":110,"h":112.1,"l":109.1,"c":111.3},{"d":"2021-10","o":111.3,"h":114.7,"l":110.8,"c":114},{"d":"2021-11","o":114,"h":115.5,"l":112.5,"c":113.2},{"d":"2021-12","o":113.2,"h":115.2,"l":112.6,"c":115.1},
{"d":"2022-01","o":115.1,"h":116.4,"l":113.5,"c":115.2},{"d":"2022-02","o":115.2,"h":116.3,"l":114.2,"c":115},{"d":"2022-03","o":115,"h":125.1,"l":114.7,"c":121.7},{"d":"2022-04","o":121.7,"h":131.3,"l":121.3,"c":129.8},{"d":"2022-05","o":129.8,"h":131.3,"l":126.4,"c":128.7},{"d":"2022-06","o":128.7,"h":137,"l":126.9,"c":135.7},{"d":"2022-07","o":135.7,"h":139.4,"l":132.5,"c":133.3},{"d":"2022-08","o":133.3,"h":139.1,"l":130.4,"c":138.9},{"d":"2022-09","o":138.9,"h":145.9,"l":138.8,"c":144.7},{"d":"2022-10","o":144.7,"h":151.9,"l":143.5,"c":148.7},{"d":"2022-11","o":148.7,"h":148.8,"l":137.5,"c":138.1},{"d":"2022-12","o":138.1,"h":138.2,"l":130.6,"c":131.1},
{"d":"2023-01","o":131.1,"h":134.8,"l":127.2,"c":130.1},{"d":"2023-02","o":130.1,"h":137.1,"l":128.1,"c":136.2},{"d":"2023-03","o":136.2,"h":137.9,"l":129.6,"c":132.8},{"d":"2023-04","o":132.8,"h":136.6,"l":130.6,"c":136.3},{"d":"2023-05","o":136.3,"h":140.9,"l":133.5,"c":139.3},{"d":"2023-06","o":139.3,"h":145.1,"l":138.4,"c":144.3},{"d":"2023-07","o":144.3,"h":145.1,"l":137.2,"c":142.3},{"d":"2023-08","o":142.3,"h":147.4,"l":141.5,"c":145.5},{"d":"2023-09","o":145.5,"h":149.7,"l":144.4,"c":149.4},{"d":"2023-10","o":149.4,"h":151.8,"l":147.3,"c":151.7},{"d":"2023-11","o":151.7,"h":151.9,"l":146.7,"c":148.2},{"d":"2023-12","o":148.2,"h":148.3,"l":140.9,"c":141},
{"d":"2024-01","o":141,"h":148.8,"l":140.8,"c":147},{"d":"2024-02","o":147,"h":150.9,"l":145.9,"c":150},{"d":"2024-03","o":150,"h":151.9,"l":146.5,"c":151.3},{"d":"2024-04","o":151.3,"h":160.2,"l":151,"c":157.8},{"d":"2024-05","o":157.8,"h":157.9,"l":151.9,"c":157.3},{"d":"2024-06","o":157.3,"h":161.3,"l":154.5,"c":160.9},{"d":"2024-07","o":160.9,"h":161.9,"l":149.6,"c":150},{"d":"2024-08","o":150,"h":150.9,"l":141.7,"c":146.2},{"d":"2024-09","o":146.2,"h":147.2,"l":139.6,"c":143.6},{"d":"2024-10","o":143.6,"h":153.9,"l":142.9,"c":152},{"d":"2024-11","o":152,"h":156.8,"l":148,"c":149.8},{"d":"2024-12","o":149.8,"h":158.1,"l":148.7,"c":157.2},
{"d":"2025-01","o":157.2,"h":158.9,"l":152.8,"c":155.2},{"d":"2025-02","o":155.2,"h":155.9,"l":148.6,"c":150.6},{"d":"2025-03","o":150.6,"h":151.3,"l":146.5,"c":149.9},{"d":"2025-04","o":149.9,"h":150.5,"l":139.9,"c":143.1},{"d":"2025-05","o":143.1,"h":148.6,"l":142.1,"c":144},{"d":"2025-06","o":144,"h":148,"l":142.1,"c":144.1},{"d":"2025-07","o":144.1,"h":150.9,"l":142.7,"c":150.7},{"d":"2025-08","o":150.7,"h":150.9,"l":145.9,"c":147.1},{"d":"2025-09","o":147.1,"h":149.9,"l":145.5,"c":147.9},{"d":"2025-10","o":147.9,"h":154.5,"l":146.6,"c":154},{"d":"2025-11","o":154,"h":157.89,"l":152.8,"c":157.06}
]},
"layer":[
{"data":{"values":[{"g":160}]},
 "mark":{"type":"rule","color":"#f0f3fa","strokeWidth":1},
 "encoding":{"y":{"field":"g","type":"quantitative","scale":{"domain":[47.3,391.4],"nice":false,"zero":false}}}},
{"data":{"name":"k"},
 "encoding":{"x":{"field":"d","type":"temporal","scale":{"type":"utc","nice":false,"padding":0,"domain":[{"year":1970,"month":6,"date":19,"utc":true},{"year":2025,"month":8,"date":18,"utc":true}]},
   "axis":{"values":[{"year":1971,"utc":true},{"year":1976,"utc":true},{"year":1981,"utc":true},{"year":1986,"utc":true},{"year":1991,"utc":true},{"year":1996,"utc":true},{"year":2001,"utc":true},{"year":2006,"utc":true},{"year":2011,"utc":true},{"year":2016,"utc":true},{"year":2021,"utc":true}],"grid":true,"gridColor":"#f0f3fa","labels":false,"ticks":false,"domainColor":"#e0e3eb","title":null,"zindex":0}}},
 "layer":[
  {"mark":{"type":"rule","color":"#a6a6a6","strokeWidth":1,"clip":true},
   "encoding":{"y":{"field":"l","type":"quantitative","scale":{"domain":[47.3,391.4],"nice":false,"zero":false},
     "axis":{"orient":"right","values":[80,120,200,240,280,320,360],"format":".2f","grid":true,"gridColor":"#f0f3fa","domainColor":"#e0e3eb","ticks":false,"tickSize":0,"labelPadding":10,"labelFontSize":12,"labelColor":"#131722","labelFont":"Roboto","title":null,"zindex":0}},
    "y2":{"field":"h"}}},
  {"mark":{"type":"bar","width":1.3,"clip":true},
   "encoding":{"y":{"field":"o","type":"quantitative","scale":{"domain":[47.3,391.4],"nice":false,"zero":false}},"y2":{"field":"c"},
    "color":{"condition":{"test":"datum.c >= datum.o","value":"#e5533d"},"value":"#5fa57c"}}}
 ]},
{"data":{"values":[{"a":"2002-01","b":"2020-08","v":90}]},
 "layer":[
  {"mark":{"type":"rule","strokeDash":[3,3],"color":"#f6b3a1","strokeWidth":1},
   "encoding":{"x":{"field":"a","type":"temporal","scale":{"type":"utc","nice":false,"padding":0,"domain":[{"year":1970,"month":6,"date":19,"utc":true},{"year":2025,"month":8,"date":18,"utc":true}]}},"x2":{"field":"b"},"y":{"field":"v","type":"quantitative","scale":{"domain":[47.3,391.4],"nice":false,"zero":false}}}},
  {"mark":{"type":"rule","strokeDash":[3,3],"strokeDashOffset":3,"color":"#cfe7ad","strokeWidth":1},
   "encoding":{"x":{"field":"a","type":"temporal","scale":{"type":"utc","nice":false,"padding":0,"domain":[{"year":1970,"month":6,"date":19,"utc":true},{"year":2025,"month":8,"date":18,"utc":true}]}},"x2":{"field":"b"},"y":{"field":"v","type":"quantitative","scale":{"domain":[47.3,391.4],"nice":false,"zero":false}}}}
 ]},
{"data":{"values":[{"p":157.06}]},
 "mark":{"type":"rule","strokeDash":[1,2],"color":"#e5533d","strokeWidth":1},
 "encoding":{"y":{"field":"p","type":"quantitative","scale":{"domain":[47.3,391.4],"nice":false,"zero":false}}}},
{"data":{"values":[{"p":157.06,"q":147.88}]},
 "encoding":{"x":{"datum":{"year":2027,"month":2,"date":13,"utc":true},"type":"temporal","scale":{"type":"utc","nice":false,"padding":0,"domain":[{"year":1970,"month":6,"date":19,"utc":true},{"year":2025,"month":8,"date":18,"utc":true}]}}},
 "layer":[
  {"mark":{"type":"rect","color":"#e5533d"},
   "encoding":{"x":{"datum":{"year":2025,"month":9,"date":7,"utc":true},"type":"temporal","scale":{"type":"utc","nice":false,"padding":0,"domain":[{"year":1970,"month":6,"date":19,"utc":true},{"year":2025,"month":8,"date":18,"utc":true}]}},"x2":{"datum":{"year":2028,"month":6,"date":13,"utc":true}},
    "y":{"datum":164.0,"type":"quantitative","scale":{"domain":[47.3,391.4],"nice":false,"zero":false}},"y2":{"datum":135.3}}},
  {"mark":{"type":"text","color":"#ffffff","font":"Roboto","fontSize":12,"fontWeight":"bold","align":"center","baseline":"middle","dy":1},
   "encoding":{"y":{"field":"p","type":"quantitative","scale":{"domain":[47.3,391.4],"nice":false,"zero":false}},"text":{"field":"p","format":".2f"}}},
  {"mark":{"type":"text","color":"#ffffff","font":"Roboto","fontSize":12,"fontWeight":"bold","align":"center","baseline":"middle","dy":6.5},
   "encoding":{"y":{"field":"q","type":"quantitative","scale":{"domain":[47.3,391.4],"nice":false,"zero":false}},"text":{"field":"q","format":".2f"}}}
 ]},
{"data":{"values":[{}]},
 "encoding":{"x":{"datum":{"year":1970,"month":11,"date":8,"utc":true},"type":"temporal","scale":{"type":"utc","nice":false,"padding":0,"domain":[{"year":1970,"month":6,"date":19,"utc":true},{"year":2025,"month":8,"date":18,"utc":true}]}},
   "y":{"datum":374.8,"type":"quantitative","scale":{"domain":[47.3,391.4],"nice":false,"zero":false}}},
 "layer":[
  {"mark":{"type":"text","align":"left","baseline":"alphabetic","font":"Roboto, 'Noto Sans CJK SC'","fontSize":16,"color":"#131722"},"encoding":{"text":{"value":"美元/日元"}}},
  {"mark":{"type":"text","align":"left","baseline":"alphabetic","font":"Roboto","fontSize":16,"color":"#9598a1","dx":76},"encoding":{"text":{"value":"·"}}},
  {"mark":{"type":"text","align":"left","baseline":"alphabetic","font":"Roboto, 'Noto Sans CJK SC'","fontSize":16,"color":"#131722","dx":86},"encoding":{"text":{"value":"1月"}}},
  {"mark":{"type":"text","align":"left","baseline":"alphabetic","font":"Roboto, 'Noto Sans CJK SC'","fontSize":13,"color":"#131722","dx":118},"encoding":{"text":{"value":"开="}}},
  {"mark":{"type":"text","align":"left","baseline":"alphabetic","font":"Roboto","fontSize":13,"color":"#e5533d","dx":137},"encoding":{"text":{"value":"154.00"}}},
  {"mark":{"type":"text","align":"left","baseline":"alphabetic","font":"Roboto, 'Noto Sans CJK SC'","fontSize":13,"color":"#131722","dx":184},"encoding":{"text":{"value":"高="}}},
  {"mark":{"type":"text","align":"left","baseline":"alphabetic","font":"Roboto","fontSize":13,"color":"#e5533d","dx":202},"encoding":{"text":{"value":"157.89"}}},
  {"mark":{"type":"text","align":"left","baseline":"alphabetic","font":"Roboto, 'Noto Sans CJK SC'","fontSize":13,"color":"#131722","dx":249},"encoding":{"text":{"value":"低="}}},
  {"mark":{"type":"text","align":"left","baseline":"alphabetic","font":"Roboto","fontSize":13,"color":"#e5533d","dx":267},"encoding":{"text":{"value":"152.80"}}},
  {"mark":{"type":"text","align":"left","baseline":"alphabetic","font":"Roboto, 'Noto Sans CJK SC'","fontSize":13,"color":"#131722","dx":315},"encoding":{"text":{"value":"收="}}},
  {"mark":{"type":"text","align":"left","baseline":"alphabetic","font":"Roboto","fontSize":13,"color":"#e5533d","dx":333},"encoding":{"text":{"value":"157.06"}}},
  {"mark":{"type":"text","align":"left","baseline":"alphabetic","font":"Roboto","fontSize":13,"color":"#e5533d","dx":380},"encoding":{"text":{"value":"+3.06 (+1.99%)"}}},
  {"mark":{"type":"text","align":"left","baseline":"alphabetic","font":"Roboto, 'Noto Sans CJK SC'","fontSize":13,"color":"#131722"},"encoding":{"y":{"datum":353.9,"type":"quantitative","scale":{"domain":[47.3,391.4],"nice":false,"zero":false}},"text":{"value":"成交量 SMA 1"}}},
  {"mark":{"type":"text","align":"left","baseline":"alphabetic","font":"Roboto","fontSize":13,"color":"#e5533d","dx":85},"encoding":{"y":{"datum":353.9,"type":"quantitative","scale":{"domain":[47.3,391.4],"nice":false,"zero":false}},"text":{"value":"0"}}}
 ]}
]
}
